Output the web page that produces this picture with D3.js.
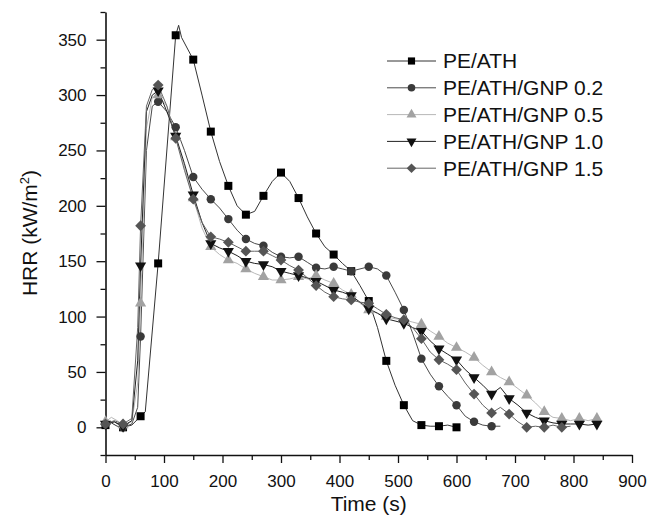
<!DOCTYPE html>
<html lang="en">
    <head>
        <style>
            body { margin: 0; background: #fff; }
            text { font-family: "Liberation Sans", Arial, sans-serif; fill: #111; }
            .axis path, .axis line { stroke: #111; }
            .axis path { stroke-width: 1.6px; }
            .axis line { stroke-width: 1.3px; }
            .line { fill: none; stroke-width: 1px; }
        </style>
        <script src="https://d3js.org/d3.v7.min.js"></script>
        <title>HRR curves</title>
    </head>
    <body>
        <div id="chart"></div>
        <script>
            // [time (s), HRR (kW/m2)], markers every 30 s
            var peAth = [[0,2],[10,4],[20,1],[30,0],[45,2],[60,10],[68,14],[90,148],[120,354],[125,363],[130,352],[150,332],[165,300],[180,267],[195,240],[210,218],[225,200],[240,192],[255,195],[270,209],[285,222],[300,230],[315,222],[330,207],[345,190],[360,175],[375,163],[390,156],[405,148],[420,141],[435,128],[450,114],[465,90],[480,60],[495,38],[510,20],[525,6],[540,2],[555,1],[570,1],[585,2],[600,0]];
            var gnp02 = [[0,3],[15,5],[30,0],[45,3],[55,18],[60,82],[70,250],[80,290],[90,294],[105,285],[120,271],[135,250],[150,226],[165,215],[180,206],[195,198],[210,188],[225,178],[240,170],[255,166],[270,164],[285,158],[300,154],[315,153],[330,154],[345,149],[360,144],[375,143],[390,145],[405,143],[420,141],[435,143],[450,145],[465,143],[480,137],[495,122],[510,106],[525,85],[540,62],[555,48],[570,37],[585,28],[600,20],[615,10],[630,5],[645,2],[660,1],[675,1]];
            var gnp05 = [[0,5],[10,9],[20,6],[30,2],[45,5],[55,40],[60,112],[70,270],[80,298],[90,300],[105,290],[120,262],[135,235],[150,207],[165,180],[180,163],[195,156],[210,151],[225,148],[240,143],[255,139],[270,136],[285,133],[300,133],[315,134],[330,136],[345,134],[360,137],[375,133],[390,130],[405,124],[420,120],[435,112],[450,106],[465,103],[480,100],[495,98],[510,97],[525,95],[540,93],[555,87],[570,82],[585,76],[600,72],[615,68],[630,63],[645,56],[660,50],[675,45],[690,41],[705,35],[720,29],[735,22],[750,14],[765,9],[780,8],[795,6],[810,8],[825,6],[840,8]];
            var gnp10 = [[0,3],[15,5],[30,1],[45,6],[55,60],[60,146],[70,285],[80,300],[90,304],[105,285],[120,263],[135,238],[150,210],[165,185],[180,166],[195,162],[210,159],[225,155],[240,150],[255,148],[270,147],[285,145],[300,141],[315,139],[330,137],[345,135],[360,132],[375,128],[390,124],[405,122],[420,119],[435,113],[450,107],[465,103],[480,98],[495,96],[510,94],[525,90],[540,87],[555,78],[570,71],[585,66],[600,61],[615,52],[630,45],[645,38],[660,30],[675,36],[690,26],[705,20],[720,13],[735,9],[750,6],[765,4],[780,3],[795,3],[810,3],[825,2],[840,3]];
            var gnp15 = [[0,3],[15,6],[30,3],[45,8],[55,90],[60,182],[70,290],[80,305],[90,309],[105,290],[120,261],[135,232],[150,206],[165,185],[180,172],[195,170],[210,167],[225,163],[240,159],[255,159],[270,159],[285,155],[300,151],[315,146],[330,142],[345,135],[360,128],[375,122],[390,118],[405,116],[420,115],[435,113],[450,112],[465,107],[480,102],[495,99],[510,97],[525,90],[540,80],[555,68],[570,61],[585,57],[600,52],[615,40],[630,30],[645,20],[660,13],[675,18],[690,12],[705,5],[720,0],[735,1],[750,0],[765,2],[780,0],[795,1]];

            var seriesNames = ["PE/ATH", "PE/ATH/GNP 0.2", "PE/ATH/GNP 0.5", "PE/ATH/GNP 1.0", "PE/ATH/GNP 1.5"];
            var seriesData = [peAth, gnp02, gnp05, gnp10, gnp15];
            var xTicks = [0, 100, 200, 300, 400, 500, 600, 700, 800, 900];
            var yTicks = [0, 50, 100, 150, 200, 250, 300, 350];

            // diamond = square turned 45 degrees
            var styles = [
                {symbol: d3.symbolSquare, size: 64, fill: "#000", line: "#333", rot: 0},
                {symbol: d3.symbolCircle, size: 56, fill: "#3a3a3a", line: "#4a4a4a", rot: 0},
                {symbol: d3.symbolTriangle, size: 54, fill: "#a2a2a2", line: "#b8b8b8", rot: 0},
                {symbol: d3.symbolTriangle, size: 54, fill: "#111", line: "#222", rot: 180},
                {symbol: d3.symbolSquare, size: 58, fill: "#555", line: "#666", rot: 45}
            ];

            var margin = {top: 12, right: 28, bottom: 68, left: 105.5},
                width = 660 - margin.left - margin.right,
                height = 523 - margin.top - margin.bottom;

            var svg = d3.select("#chart")
                .append("svg")
                    .attr("width", 660)
                    .attr("height", 523)
                .append("g")
                    .attr("transform", "translate(" + margin.left + "," + margin.top + ")");

            var x = d3.scaleLinear().domain([0, 900]).range([0, width]);
            var y = d3.scaleLinear().domain([-25, 375]).range([height, 0]);

            // minor ticks
            svg.append("g")
                .attr("class", "axis")
                .attr("transform", "translate(0," + height + ")")
                .call(d3.axisBottom(x).tickValues(d3.range(50, 900, 100)).tickSize(5).tickFormat(""))
                .call(g => g.select(".domain").remove());
            svg.append("g")
                .attr("class", "axis")
                .call(d3.axisLeft(y).tickValues(d3.range(-25, 376, 50)).tickSize(5).tickFormat(""))
                .call(g => g.select(".domain").remove());

            svg.append("g")
                .attr("class", "axis")
                .attr("transform", "translate(0," + height + ")")
                .call(d3.axisBottom(x).tickValues(xTicks).tickSize(8).tickSizeOuter(0).tickPadding(12))
                .selectAll("text").style("font-size", "17px");

            svg.append("g")
                .attr("class", "axis")
                .call(d3.axisLeft(y).tickValues(yTicks).tickSize(9).tickSizeOuter(0).tickPadding(10))
                .selectAll("text").style("font-size", "17px");

            var valueline = d3.line()
                .x(function(d) { return x(d[0]); })
                .y(function(d) { return y(d[1]); });

            seriesData.forEach(function(data, i) {
                svg.append("path")
                    .datum(data)
                    .attr("class", "line")
                    .attr("stroke", styles[i].line)
                    .attr("d", valueline);
            });

            seriesData.forEach(function(data, i) {
                var st = styles[i];
                svg.append("g")
                    .selectAll("path")
                    .data(data.filter(function(d) { return d[0] % 30 === 0; }))
                    .enter().append("path")
                        .attr("d", d3.symbol().type(st.symbol).size(st.size))
                        .attr("fill", st.fill)
                        .attr("transform", function(d) {
                            return "translate(" + x(d[0]) + "," + y(d[1]) + ") rotate(" + st.rot + ")";
                        });
            });

            // axis titles
            svg.append("text")
                .attr("x", width / 2)
                .attr("y", height + 56)
                .attr("text-anchor", "middle")
                .style("font-size", "21px")
                .text("Time (s)");

            var yt = svg.append("text")
                .attr("transform", "translate(" + (37 - margin.left) + "," + (233 - margin.top) + ") rotate(-90)")
                .attr("text-anchor", "middle")
                .style("font-size", "21px");
            yt.append("tspan").text("HRR (kW/m");
            yt.append("tspan").attr("dy", -8).style("font-size", "13px").text("2");
            yt.append("tspan").attr("dy", 8).text(")");

            // legend
            var legend = svg.append("g")
                .attr("transform", "translate(" + (387 - margin.left) + "," + (61 - margin.top) + ")");
            seriesNames.forEach(function(name, i) {
                var st = styles[i];
                var row = legend.append("g").attr("transform", "translate(0," + (i * 26.8) + ")");
                row.append("line")
                    .attr("x1", 0).attr("x2", 49)
                    .attr("stroke", st.line).attr("stroke-width", 1);
                row.append("path")
                    .attr("d", d3.symbol().type(st.symbol).size(st.size * 0.8))
                    .attr("fill", st.fill)
                    .attr("transform", "translate(24.5,0) rotate(" + st.rot + ")");
                row.append("text")
                    .attr("x", 56)
                    .attr("dy", "0.35em")
                    .style("font-size", "21px")
                    .text(name);
            });
        </script>
    </body>
</html>
